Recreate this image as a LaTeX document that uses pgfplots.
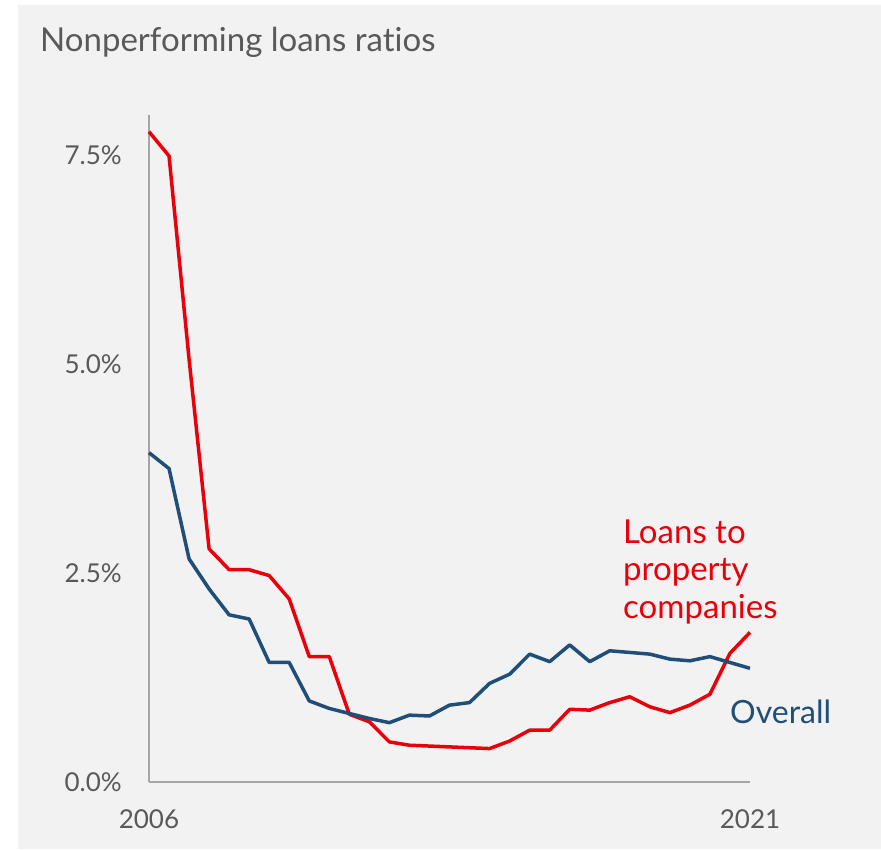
\documentclass[border=0pt]{standalone}
\usepackage{fontspec}
\setmainfont{Lato}[Ligatures=NoCommon]
\usepackage{pgfplots}
\pgfplotsset{compat=1.18}
\definecolor{bg}{HTML}{F2F2F2}
\definecolor{txt}{HTML}{595959}
\definecolor{axl}{HTML}{A6A6A6}
\definecolor{redl}{HTML}{E8000B}
\definecolor{bluel}{HTML}{1F4E79}
\begin{document}
\begin{tikzpicture}
\useasboundingbox (0pt,0pt) rectangle (881pt,-849pt);
\fill[bg] (18pt,-5pt) rectangle (881pt,-849pt);
\node[anchor=base west, inner sep=0pt, text=txt, font=\fontsize{33}{38}\selectfont] at (40pt,-51pt) {Nonperforming loans ratios};
\begin{axis}[
  at={(149pt,-782pt)}, anchor=south west,
  scale only axis, width=601pt, height=667pt,
  xmin=2006, xmax=2021, ymin=0, ymax=7.98,
  axis lines=left, axis line style={-, axl, line width=1.2pt},
  xtick={2006,2021}, xticklabels={2006,2021},
  ytick={0,2.5,5,7.5}, yticklabels={0.0\%,2.5\%,5.0\%,7.5\%},
  major tick length=0pt,
  tick label style={text=txt, font=\fontsize{26}{30}\selectfont, inner sep=0pt},
  yticklabel style={xshift=-27pt},
  xticklabel style={anchor=north, yshift=-27pt},
  /pgf/number format/assume math mode=true,
  clip=false,
]
\addplot[redl, line width=3.5pt, line join=round] coordinates {
(2006.0,7.78) (2006.5,7.49) (2007.0,5.06) (2007.5,2.79) (2008.0,2.54) (2008.5,2.54)
(2009.0,2.47) (2009.5,2.19) (2010.0,1.50) (2010.5,1.50) (2011.0,0.81) (2011.5,0.72)
(2012.0,0.48) (2012.5,0.44) (2013.0,0.43) (2013.5,0.42) (2014.0,0.41) (2014.5,0.40)
(2015.0,0.49) (2015.5,0.62) (2016.0,0.62) (2016.5,0.87) (2017.0,0.86) (2017.5,0.95)
(2018.0,1.02) (2018.5,0.90) (2019.0,0.83) (2019.5,0.92) (2020.0,1.05) (2020.5,1.54)
(2021.0,1.79)};
\addplot[bluel, line width=3.5pt, line join=round] coordinates {
(2006.0,3.94) (2006.5,3.75) (2007.0,2.67) (2007.5,2.31) (2008.0,2.00) (2008.5,1.95)
(2009.0,1.43) (2009.5,1.43) (2010.0,0.97) (2010.5,0.88) (2011.0,0.82) (2011.5,0.76)
(2012.0,0.71) (2012.5,0.80) (2013.0,0.79) (2013.5,0.92) (2014.0,0.95) (2014.5,1.18)
(2015.0,1.29) (2015.5,1.53) (2016.0,1.44) (2016.5,1.64) (2017.0,1.44) (2017.5,1.57)
(2018.0,1.55) (2018.5,1.53) (2019.0,1.47) (2019.5,1.45) (2020.0,1.50) (2020.5,1.43)
(2021.0,1.36)};
\end{axis}
\node[anchor=base west, inner sep=0pt, text=redl, font=\fontsize{33}{37.5}\selectfont, align=left] at (623pt,-618pt) {Loans to\\property\\companies};
\node[anchor=base west, inner sep=0pt, text=bluel, font=\fontsize{32}{38}\selectfont] at (730pt,-723pt) {Overall};
\end{tikzpicture}
\end{document}
